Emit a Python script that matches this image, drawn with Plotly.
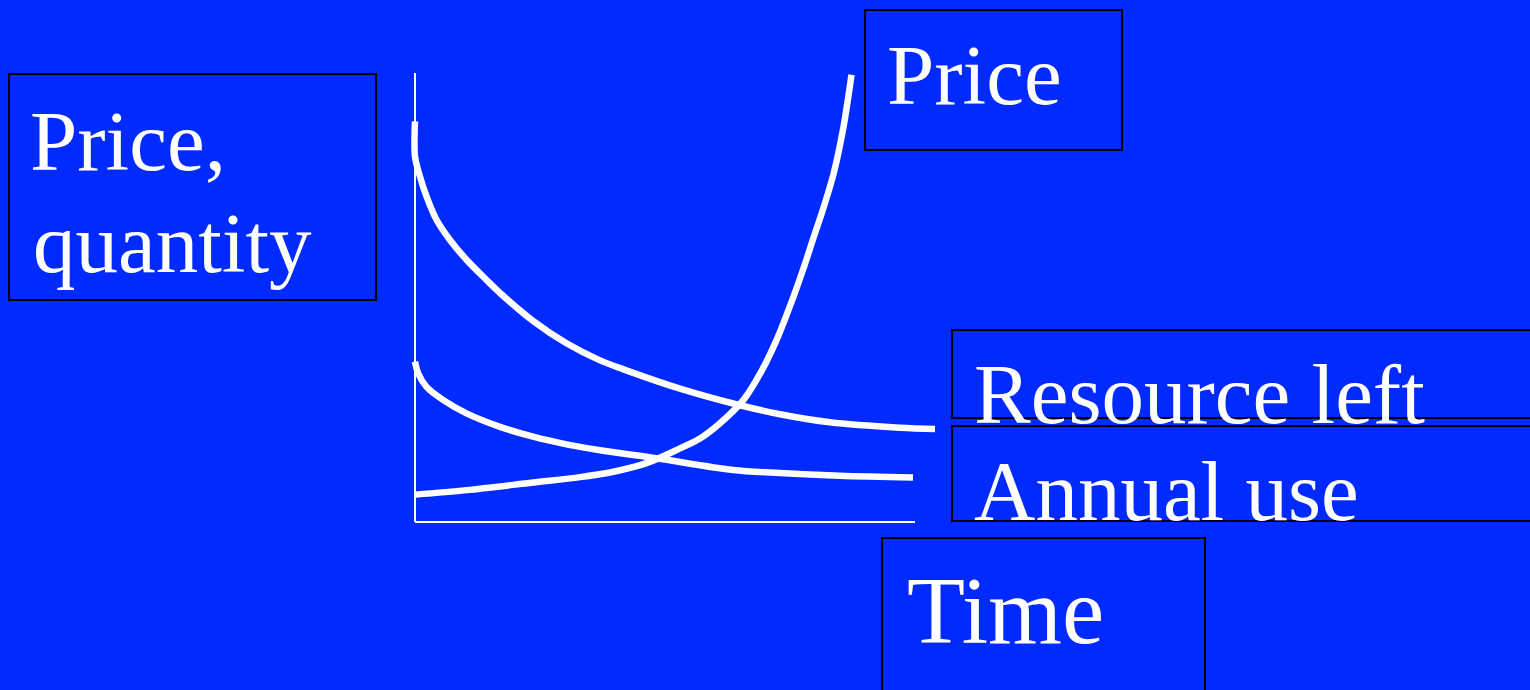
import plotly.graph_objects as go

# Stylised depletion diagram: resource stock, annual use and price over time
resource_t = [0.0, 0.0, 0.10, 0.23, 0.43, 0.70, 1.03, 1.43, 1.70, 2.36, 3.03, 3.70, 4.17, 5.30, 6.50, 7.30, 8.30, 9.70, 10.40]
resource_v = [8.92, 8.14, 7.69, 7.25, 6.73, 6.28, 5.84, 5.39, 5.10, 4.48, 3.98, 3.60, 3.40, 2.97, 2.60, 2.40, 2.22, 2.10, 2.07]

use_t = [0.0, 0.06, 0.23, 0.56, 1.03, 1.70, 2.36, 3.03, 3.70, 4.83, 6.36, 7.30, 8.50, 9.96]
use_v = [3.57, 3.32, 3.01, 2.72, 2.42, 2.12, 1.90, 1.73, 1.60, 1.42, 1.16, 1.09, 1.03, 0.99]

price_t = [0.0, 1.03, 2.36, 3.30, 3.97, 4.63, 5.30, 5.70, 6.10, 6.57, 6.93, 7.23, 7.57, 7.77, 7.97, 8.17, 8.37, 8.57, 8.73]
price_v = [0.61, 0.71, 0.88, 1.00, 1.12, 1.31, 1.64, 1.86, 2.20, 2.72, 3.36, 4.05, 5.02, 5.65, 6.33, 7.00, 7.75, 8.80, 9.96]

axis_t = [0, 10]
axis_v = [0, 10]

BG = "#002AFF"
SERIF = "Liberation Serif"

fig = go.Figure()
for t, v, name in [(resource_t, resource_v, "Resource left"),
                   (use_t, use_v, "Annual use"),
                   (price_t, price_v, "Price")]:
    fig.add_trace(go.Scatter(x=t, y=v, mode="lines", name=name,
                             line=dict(color="white", width=6.5, shape="spline", smoothing=0.9),
                             hoverinfo="skip"))

W, H = 1530, 690


def px(x):
    return x / W


def py(y):
    return 1 - y / H


# axis lines of the diagram
fig.add_shape(type="line", xref="x", yref="y", x0=axis_t[0], x1=axis_t[0], y0=axis_v[0], y1=axis_v[1],
              line=dict(color="white", width=2))
fig.add_shape(type="line", xref="x", yref="y", x0=axis_t[0], x1=axis_t[1], y0=axis_v[0], y1=axis_v[0],
              line=dict(color="white", width=2))

# label boxes
boxes = [(9, 74, 376, 300), (865, 10, 1122, 150), (952, 330, 1545, 418),
         (952, 426, 1545, 521), (882, 538, 1205, 705)]
for x0, y0, x1, y1 in boxes:
    fig.add_shape(type="rect", xref="paper", yref="paper",
                  x0=px(x0), x1=px(x1), y0=py(y0), y1=py(y1),
                  line=dict(color="black", width=2), fillcolor="rgba(0,0,0,0)", layer="below")

labels = [("Price,", 28, 168, 85), ("quantity", 31, 270, 85), ("Price", 885, 102, 85),
          ("Resource left", 972, 421, 85), ("Annual use", 972, 518, 85), ("Time", 905, 641, 95)]
for text, x, base, size in labels:
    fig.add_annotation(text=text, xref="paper", yref="paper", x=px(x), y=py(base - 0.32 * size),
                       xanchor="left", yanchor="middle", showarrow=False,
                       font=dict(family=SERIF, size=size, color="white"))

fig.update_layout(
    width=W, height=H, margin=dict(l=0, r=0, t=0, b=0),
    paper_bgcolor=BG, plot_bgcolor=BG, showlegend=False,
    xaxis=dict(range=[-0.1, 10.5], domain=[410 / W, 940 / W], visible=False),
    yaxis=dict(range=[-0.2, 10.3], domain=[1 - 531 / H, 1 - 59.5 / H], visible=False),
)

fig.write_html("out.html")
